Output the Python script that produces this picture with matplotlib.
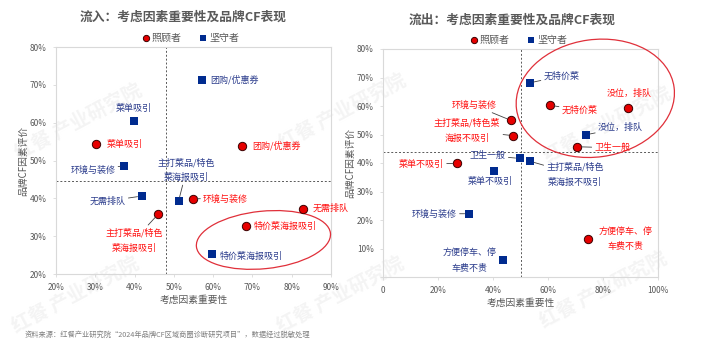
import matplotlib.pyplot as plt
from matplotlib.patches import Ellipse

plt.rcParams['font.family'] = ['Noto Sans CJK SC', 'DejaVu Sans']

# ---- 流入 ----
in_names = ['菜单吸引', '团购/优惠券', '环境与装修', '无需排队', '特价菜海报吸引', '主打菜品/特色\n菜海报吸引']
in_care_x = [30.3, 67.4, 54.9, 82.8, 68.3, 46.0]
in_care_y = [54.3, 53.9, 39.9, 37.3, 32.6, 35.8]
in_keep_x = [39.9, 57.2, 37.4, 41.8, 59.7, 51.2]
in_keep_y = [60.4, 71.3, 48.6, 40.6, 25.2, 39.3]

# ---- 流出 ----
out_names = ['无特价菜', '没位，排队', '环境与装修', '主打菜品/特色菜\n海报不吸引', '卫生一般', '菜单不吸引', '方便停车、停\n车费不贵']
out_keep_names = ['无特价菜', '没位，排队', '环境与装修', '主打菜品/特色\n菜海报不吸引', '卫生一般', '菜单不吸引', '方便停车、停\n车费不贵']
out_care_x = [60.6, 89.1, 46.4, 47.3, 70.7, 26.9, 74.7]
out_care_y = [60.3, 59.4, 55.0, 49.6, 45.7, 39.9, 13.4]
out_keep_x = [53.3, 73.8, 31.2, 53.5, 49.7, 40.5, 43.5]
out_keep_y = [68.1, 49.9, 22.2, 40.6, 41.6, 37.3, 5.8]

# label layout: (dx px, dy px, ha, leader line)
in_care_pos = [(10, 0, 'left', False), (10, 0, 'left', False), (10, 0, 'left', True),
               (10, 0, 'left', False), (8, 0, 'left', False), (-24, -26, 'center', True)]
in_keep_pos = [(0, 13, 'center', False), (8, 0, 'left', False), (-9, -4, 'right', True),
               (-16, -5, 'right', True), (8, -2, 'left', False), (8, 31, 'center', True)]
out_care_pos = [(12, -5, 'left', True), (1, 14, 'center', False), (-14, 15, 'right', True),
                (-46, 5, 'center', True), (17, -1, 'left', True), (-13, -1, 'right', True),
                (37, 0, 'center', False)]
out_keep_pos = [(14, 7, 'left', True), (12, 7, 'left', True), (-12, 0, 'right', True),
                (45, -13, 'center', True), (-14, 3, 'right', True), (-4, -11, 'center', False),
                (-33, 0, 'center', False)]

RED = '#E60000'
BLUE = '#002B8F'
RED_TXT = '#FF1010'
BLUE_TXT = '#2B3C8C'
GREY = '#595959'

fig = plt.figure(figsize=(7.05, 3.53), dpi=100)

# faint watermarks
for (wx, wy) in [(78, 122), (342, 112), (75, 295), (340, 295), (607, 125), (603, 290)]:
    fig.text(wx / 705, 1 - wy / 353, '红餐 产业研究院', rotation=28, fontsize=14,
             fontweight='bold', color='#F4F4F4', ha='center', va='center', zorder=-1)

ax1 = fig.add_axes([56 / 705, 1 - 274 / 353, 275 / 705, 227 / 353])
ax2 = fig.add_axes([383 / 705, 1 - 277 / 353, 275 / 705, 228 / 353])


def style(ax):
    ax.set_facecolor('none')
    for s in ax.spines.values():
        s.set_color('#D9D9D9')
        s.set_linewidth(0.8)
    ax.tick_params(length=2, width=0.6, color='#D9D9D9', labelsize=6,
                   labelcolor=GREY, pad=4.5)
    ax.set_xlabel('考虑因素重要性', fontsize=7, color=GREY, labelpad=2)
    ax.set_ylabel('品牌CF因素评价', fontsize=7, color=GREY, labelpad=1.5)


def labels(ax, names, xs, ys, pos, color):
    for n, x, y, (dx, dy, ha, line) in zip(names, xs, ys, pos):
        kw = {}
        if line:
            kw['arrowprops'] = dict(arrowstyle='-', color='#404040', lw=0.6,
                                    shrinkA=0, shrinkB=3)
        ax.annotate(n, (x, y), xytext=(dx, dy), textcoords='offset pixels',
                    ha=ha, va='center', fontsize=6.5, color=color,
                    linespacing=1.9, zorder=5, annotation_clip=False, **kw)


# left chart
style(ax1)
ax1.set_xlim(20, 90)
ax1.set_ylim(20, 80)
ax1.set_xticks(range(20, 91, 10))
ax1.set_xticklabels([f'{v}%' for v in range(20, 91, 10)])
ax1.set_yticks(range(20, 81, 10))
ax1.set_yticklabels([f'{v}%' for v in range(20, 81, 10)])
ax1.axvline(48, color=GREY, ls=(0, (2, 2)), lw=0.7, zorder=1)
ax1.axhline(44.6, color=GREY, ls=(0, (2, 2)), lw=0.7, zorder=1)
c1 = ax1.scatter(in_care_x, in_care_y, s=36, color=RED, edgecolors='#3A0000',
                 linewidths=0.7, zorder=4, label='照顾者')
k1 = ax1.scatter(in_keep_x, in_keep_y, s=34, marker='s', color=BLUE, linewidths=0,
                 zorder=4, label='坚守者')
labels(ax1, in_names, in_care_x, in_care_y, in_care_pos, RED_TXT)
labels(ax1, in_names, in_keep_x, in_keep_y, in_keep_pos, BLUE_TXT)
ax1.add_patch(Ellipse((72.8, 29.0), 34.3, 15.2, angle=6, fill=False,
                      edgecolor='#E0303A', lw=0.9, clip_on=False, zorder=3))

# right chart
style(ax2)
ax2.set_xlim(0, 100)
ax2.set_ylim(0, 80)
ax2.set_xticks(range(0, 101, 20))
ax2.set_xticklabels(['0'] + [f'{v}%' for v in range(20, 101, 20)])
ax2.set_yticks(range(0, 81, 10))
ax2.set_yticklabels([''] + [f'{v}%' for v in range(10, 81, 10)])
ax2.axvline(50, color=GREY, ls=(0, (2, 2)), lw=0.7, zorder=1)
ax2.axhline(44, color=GREY, ls=(0, (2, 2)), lw=0.7, zorder=1)
c2 = ax2.scatter(out_care_x, out_care_y, s=36, color=RED, edgecolors='#3A0000',
                 linewidths=0.7, zorder=4, label='照顾者')
k2 = ax2.scatter(out_keep_x, out_keep_y, s=34, marker='s', color=BLUE, linewidths=0,
                 zorder=4, label='坚守者')
labels(ax2, out_names, out_care_x, out_care_y, out_care_pos, RED_TXT)
labels(ax2, out_keep_names, out_keep_x, out_keep_y, out_keep_pos, BLUE_TXT)
ax2.add_patch(Ellipse((77.2, 62.7), 57.8, 41.2, angle=7.5, fill=False,
                      edgecolor='#E0303A', lw=0.9, clip_on=False, zorder=3))

# titles and legends
fig.text(183 / 705, 1 - 17 / 353, '流入：考虑因素重要性及品牌CF表现', ha='center', va='center',
         fontsize=9.2, fontweight='bold', color=GREY)
fig.text(512 / 705, 1 - 20 / 353, '流出：考虑因素重要性及品牌CF表现', ha='center', va='center',
         fontsize=9.2, fontweight='bold', color=GREY)
for ax, c, k, (lx, ly) in [(ax1, c1, k1, (190, 38)), (ax2, c2, k2, (518, 40))]:
    leg = ax.legend(handles=[c, k], loc='center', bbox_to_anchor=(lx / 705, 1 - ly / 353),
                    bbox_transform=fig.transFigure, ncol=2, frameon=False, fontsize=7.2,
                    handletextpad=0.1, columnspacing=1.6, markerscale=0.75,
                    borderpad=0, handlelength=1.0)
    for t in leg.get_texts():
        t.set_color(GREY)

fig.text(25 / 705, 1 - 335 / 353,
         '资料来源：红餐产业研究院“2024年品牌CF区域商圈诊断研究项目”，数据经过脱敏处理',
         ha='left', va='center', fontsize=5.2, color='#7F7F7F')

fig.savefig('out.png', dpi=100, facecolor='white')
